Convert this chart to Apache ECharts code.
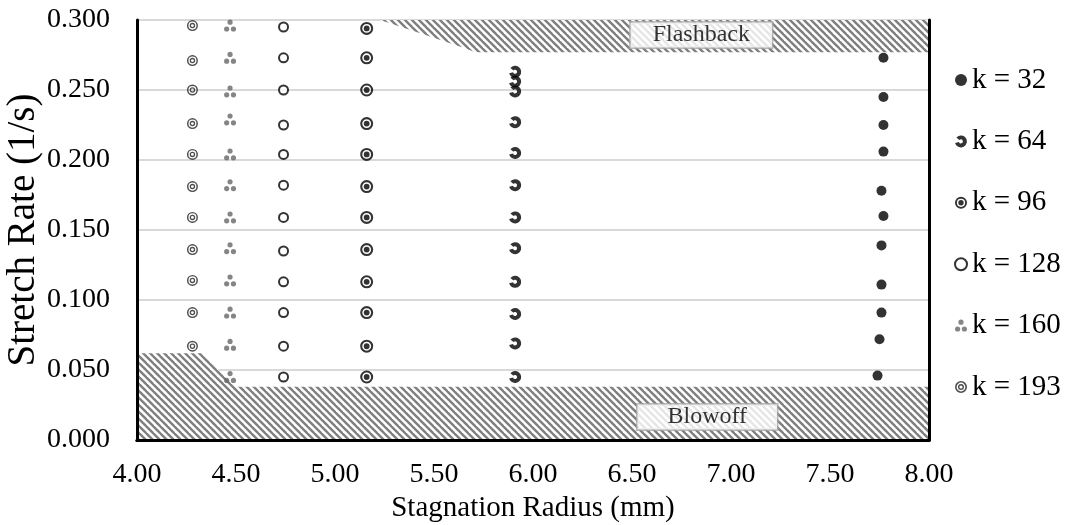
<!DOCTYPE html>
<html>
<head>
<meta charset="utf-8">
<script src="https://cdn.jsdelivr.net/npm/echarts@6/dist/echarts.min.js"></script>
<style>
  html, body { margin: 0; padding: 0; background: #fff; }
  #chart { width: 1076px; height: 525px; }
</style>
</head>
<body>
<div id="chart"></div>
<script>
// Stagnation radius (mm) and stretch rate (1/s) for each k
const k32Radius  = [7.77, 7.77, 7.77, 7.77, 7.76, 7.77, 7.76, 7.76, 7.76, 7.75, 7.74];
const k32Rate    = [0.273, 0.245, 0.225, 0.206, 0.178, 0.160, 0.139, 0.111, 0.091, 0.072, 0.046];
const k64Radius  = [5.91, 5.91, 5.91, 5.91, 5.91, 5.91, 5.91, 5.91, 5.91, 5.91, 5.91, 5.91];
const k64Rate    = [0.263, 0.256, 0.249, 0.227, 0.205, 0.182, 0.159, 0.137, 0.113, 0.090, 0.069, 0.045];
const k96Radius  = [5.16, 5.16, 5.16, 5.16, 5.16, 5.16, 5.16, 5.16, 5.16, 5.16, 5.16, 5.16];
const k96Rate    = [0.294, 0.273, 0.250, 0.226, 0.204, 0.181, 0.159, 0.136, 0.113, 0.091, 0.067, 0.045];
const k128Radius = [4.74, 4.74, 4.74, 4.74, 4.74, 4.74, 4.74, 4.74, 4.74, 4.74, 4.74, 4.74];
const k128Rate   = [0.295, 0.273, 0.250, 0.225, 0.204, 0.182, 0.159, 0.135, 0.113, 0.091, 0.067, 0.045];
const k160Radius = [4.47, 4.47, 4.47, 4.47, 4.47, 4.47, 4.47, 4.47, 4.47, 4.47, 4.47, 4.47];
const k160Rate   = [0.296, 0.273, 0.249, 0.229, 0.204, 0.182, 0.159, 0.137, 0.114, 0.091, 0.068, 0.045];
const k193Radius = [4.28, 4.28, 4.28, 4.28, 4.28, 4.28, 4.28, 4.28, 4.28, 4.28, 4.28];
const k193Rate   = [0.296, 0.271, 0.250, 0.226, 0.204, 0.181, 0.159, 0.136, 0.114, 0.091, 0.067];

// Stability limits
const blowoffRadius   = [4.00, 4.33, 4.495, 8.00];
const blowoffRate     = [0.062, 0.062, 0.038, 0.038];
const flashbackRadius = [5.227, 5.465, 5.63, 5.71, 8.00];
const flashbackRate   = [0.300, 0.289, 0.281, 0.277, 0.277];

// Region captions
const regionNames  = ['Flashback', 'Blowoff'];
const regionRadius = [6.85, 6.88];
const regionRate   = [0.2893, 0.0164];

const seriesNames = ['k = 32', 'k = 64', 'k = 96', 'k = 128', 'k = 160', 'k = 193'];

const pairs = (xs, ys) => xs.map((x, i) => [x, ys[i]]);
const SERIF = "'Liberation Serif', 'Times New Roman', serif";

// Diagonal hatch pattern
function hatch() {
  const s = 7;
  const c = document.createElement('canvas');
  c.width = s; c.height = s;
  const g = c.getContext('2d');
  g.fillStyle = '#fff';
  g.fillRect(0, 0, s, s);
  g.strokeStyle = '#7f7f7f';
  g.lineWidth = 2.4;
  [-s, 0, s].forEach(off => {
    g.beginPath();
    g.moveTo(-2, -2 + off);
    g.lineTo(s + 2, s + 2 + off);
    g.stroke();
  });
  return { image: c, repeat: 'repeat' };
}

// Marker shapes
function circ(cx, cy, r, cw) {
  const f = cw ? 1 : 0;
  return `M${cx} ${cy - r}A${r} ${r} 0 1 ${f} ${cx} ${cy + r}A${r} ${r} 0 1 ${f} ${cx} ${cy - r}Z`;
}
const bullseye = 'path://' + circ(6, 6, 6, true) + circ(6, 6, 4.1, false) + circ(6, 6, 2.7, true);
const doubleRing = 'path://' + circ(6, 6, 6, true) + circ(6, 6, 4.4, false) + circ(6, 6, 3.0, true) + circ(6, 6, 1.6, false);
const trefoil = 'path://' + circ(6, 2.6, 2.6, true) + circ(2.6, 9.4, 2.6, true) + circ(9.4, 9.4, 2.6, true);
const notched = 'path://M1.404 2.142A6 6 0 1 1 0.204 7.553L4.068 6.518A2 2 0 1 0 4.468 4.714Z';

const pattern = hatch();

function pointSeries(name, xs, ys, symbol, size, itemStyle) {
  return {
    name, type: 'scatter', data: pairs(xs, ys),
    symbol, symbolSize: size, itemStyle, z: 4
  };
}

function limitSeries(xs, ys, origin) {
  return {
    type: 'line', data: pairs(xs, ys), showSymbol: false, silent: true,
    lineStyle: { width: 0, opacity: 0 },
    areaStyle: { color: pattern, opacity: 1, origin },
    z: 2, animation: false
  };
}

const chart = echarts.init(document.getElementById('chart'));

const boxLine = { show: true, lineStyle: { color: '#000', width: 3 } };
const captionPadding = [[1, 22, 0, 22], [1, 30, 0, 30]];

chart.setOption({
  animation: false,
  backgroundColor: '#fff',
  textStyle: { fontFamily: SERIF, color: '#000' },
  grid: { left: 137, right: 147, top: 20, bottom: 85, outerBoundsMode: 'none', containLabel: false },
  legend: {
    data: seriesNames,
    orient: 'vertical',
    left: 949, top: 60,
    itemWidth: 12, itemHeight: 12,
    itemGap: 31.4,
    textStyle: { fontFamily: SERIF, fontSize: 29, color: '#000', lineHeight: 30 }
  },
  xAxis: [
    {
      type: 'value', min: 4, max: 8, interval: 0.5, z: 10,
      axisLine: boxLine, axisTick: { show: false }, splitLine: { show: false },
      axisLabel: { formatter: v => v.toFixed(2), fontSize: 28, color: '#000', fontFamily: SERIF, margin: 21 },
      name: 'Stagnation Radius (mm)', nameLocation: 'middle', nameGap: 54, nameMoveOverlap: false,
      nameTextStyle: { fontSize: 29, color: '#000', fontFamily: SERIF }
    },
    {
      type: 'value', min: 4, max: 8, position: 'top', z: 10,
      axisLine: boxLine, axisTick: { show: false }, axisLabel: { show: false }, splitLine: { show: false }
    }
  ],
  yAxis: [
    {
      type: 'value', min: 0, max: 0.3, interval: 0.05, z: 10,
      axisLine: boxLine, axisTick: { show: false }, splitLine: { show: false },
      axisLabel: { formatter: v => v.toFixed(3), fontSize: 28, color: '#000', fontFamily: SERIF, margin: 27 },
      name: 'Stretch Rate (1/s)', nameLocation: 'middle', nameGap: 94, nameRotate: 90, nameMoveOverlap: false,
      nameTextStyle: { fontSize: 39, color: '#000', fontFamily: SERIF }
    },
    {
      type: 'value', min: 0, max: 0.3, position: 'right', z: 10,
      axisLine: boxLine, axisTick: { show: false }, axisLabel: { show: false }, splitLine: { show: false }
    },
    {
      type: 'value', min: 0, max: 0.3, interval: 0.05, position: 'left', z: 0,
      axisLine: { show: false }, axisTick: { show: false }, axisLabel: { show: false },
      splitLine: { show: true, lineStyle: { color: '#d9d9d9', width: 2 } }
    }
  ],
  series: [
    limitSeries(blowoffRadius, blowoffRate, 'start'),
    limitSeries(flashbackRadius, flashbackRate, 'end'),
    {
      type: 'scatter', silent: true, z: 5,
      data: regionNames.map((n, i) => ({
        name: n, value: [regionRadius[i], regionRate[i]],
        label: { padding: captionPadding[i] }
      })),
      symbolSize: 1, itemStyle: { color: 'rgba(0,0,0,0)' },
      label: {
        show: true, position: 'inside', formatter: '{b}',
        fontFamily: SERIF, fontSize: 24, color: '#000',
        backgroundColor: '#fff', borderColor: '#a6a6a6', borderWidth: 1.5
      }
    },
    pointSeries('k = 32', k32Radius, k32Rate, 'circle', 10, { color: '#000' }),
    pointSeries('k = 64', k64Radius, k64Rate, notched, 12, { color: '#000' }),
    pointSeries('k = 96', k96Radius, k96Rate, bullseye, 13, { color: '#000' }),
    pointSeries('k = 128', k128Radius, k128Rate, 'circle', 9, { color: '#fff', borderColor: '#000', borderWidth: 2 }),
    pointSeries('k = 160', k160Radius, k160Rate, trefoil, 12, { color: '#666' }),
    pointSeries('k = 193', k193Radius, k193Rate, doubleRing, 11, { color: '#222' })
  ]
});
</script>
</body>
</html>
